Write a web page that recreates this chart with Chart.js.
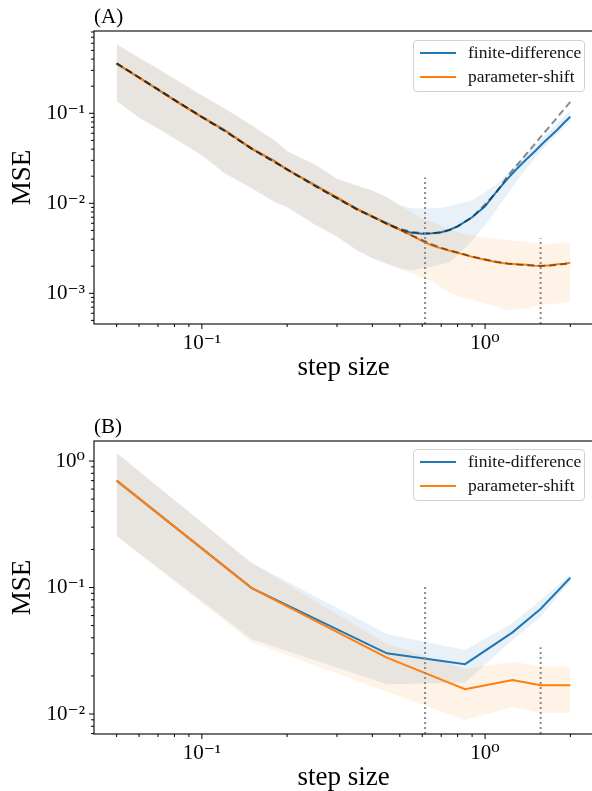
<!DOCTYPE html>
<html>
<head>
<meta charset="utf-8">
<script src="https://cdn.jsdelivr.net/npm/chart.js@4.4.1/dist/chart.umd.min.js"></script>
<style>
  html, body { margin: 0; padding: 0; background: #fff; overflow: hidden; }
  #page { position: relative; width: 592px; height: 791px; overflow: hidden; }
  canvas { position: absolute; left: 0; }
  .legend {
    position: absolute; width: 172px; height: 52px; box-sizing: border-box;
    background: rgba(255,255,255,0.8); border: 1px solid #d2d2d2; border-radius: 4px;
    font-family: 'Liberation Serif', 'DejaVu Serif', serif; font-size: 17.5px; color: #111;
  }
  .legend .swatch { position: absolute; left: 6px; width: 36px; height: 2px; }
  .legend .name { position: absolute; left: 54px; height: 20px; line-height: 20px; white-space: nowrap; }
</style>
</head>
<body>
<div id="page">
  <canvas id="chartA" width="600" height="384" style="top:0"></canvas>
  <canvas id="chartB" width="600" height="410" style="top:384px"></canvas>
  <div class="legend" id="legendA" style="left:413px; top:40px"></div>
  <div class="legend" id="legendB" style="left:413px; top:449px"></div>
</div>
<script>
// ---- data: panel A (dense sweep) ----
const stepsA = [0.05, 0.06, 0.07, 0.08, 0.1, 0.12, 0.15, 0.18, 0.2, 0.25, 0.3, 0.35, 0.4, 0.45, 0.5,
  0.55, 0.6, 0.65, 0.7, 0.75, 0.8, 0.9, 1.0, 1.1, 1.2, 1.3, 1.4, 1.5, 1.6, 1.7, 1.8, 1.9, 2.0];
const fdMeanA = [0.355, 0.250, 0.183, 0.140, 0.0905, 0.0655, 0.0402, 0.0296, 0.0236, 0.0160, 0.0115, 0.0088, 0.0071, 0.0060, 0.0051,
  0.0047, 0.0046, 0.00464, 0.00476, 0.00508, 0.00555, 0.00699, 0.00926, 0.0136, 0.0187, 0.0245, 0.0308, 0.0378, 0.0464, 0.0555, 0.0656, 0.0784, 0.0914];
const fdLowA = [0.137, 0.0891, 0.0673, 0.0528, 0.0341, 0.0215, 0.0147, 0.0105, 0.0090, 0.0058, 0.0043, 0.0030, 0.00245, 0.00215, 0.0019,
  0.0018, 0.0019, 0.00197, 0.0021, 0.00221, 0.00264, 0.00388, 0.0057, 0.0086, 0.0126, 0.0180, 0.0245, 0.0316, 0.0398, 0.0489, 0.0584, 0.0699, 0.0815];
const fdHighA = [0.584, 0.414, 0.312, 0.242, 0.1585, 0.1136, 0.0736, 0.0501, 0.0378, 0.0271, 0.0187, 0.0159, 0.0139, 0.0117, 0.0095,
  0.0088, 0.0088, 0.0088, 0.0089, 0.0093, 0.0098, 0.0108, 0.0133, 0.0163, 0.0215, 0.0278, 0.0359, 0.0441, 0.0541, 0.0647, 0.0774, 0.0914, 0.108];
const psMeanA = [0.360, 0.248, 0.185, 0.139, 0.0914, 0.0648, 0.0408, 0.0293, 0.0239, 0.0158, 0.0117, 0.0087, 0.0072, 0.0059, 0.0051,
  0.0044, 0.0038, 0.0034, 0.00316, 0.00297, 0.00282, 0.00254, 0.00236, 0.00221, 0.00213, 0.00210, 0.00207, 0.00202, 0.00201, 0.00205, 0.00210, 0.00213, 0.00218];
const psLowA = [0.137, 0.0891, 0.0680, 0.0520, 0.0341, 0.0220, 0.0147, 0.0103, 0.0092, 0.0058, 0.0042, 0.0031, 0.00245, 0.0021, 0.00185,
  0.00167, 0.0015, 0.00136, 0.00114, 0.00103, 0.00093, 0.00086, 0.00077, 0.00072, 0.00065, 0.00066, 0.00068, 0.00072, 0.00074, 0.00076, 0.00077, 0.00079, 0.00080];
const psHighA = [0.584, 0.414, 0.312, 0.242, 0.1585, 0.1136, 0.0736, 0.0501, 0.0378, 0.0271, 0.0187, 0.0159, 0.0139, 0.0117, 0.0095,
  0.0079, 0.0068, 0.0062, 0.0056, 0.0051, 0.0048, 0.0044, 0.0042, 0.0040, 0.0039, 0.0038, 0.0037, 0.00355, 0.0035, 0.00355, 0.0036, 0.0037, 0.0037];
// theory curves (dashed)
const theoryFdA = [0.360, 0.250, 0.184, 0.141, 0.0910, 0.0640, 0.0405, 0.0288, 0.0238, 0.0157, 0.0114, 0.0087, 0.0071, 0.0059, 0.0052,
  0.0048, 0.00465, 0.00462, 0.00474, 0.00505, 0.00553, 0.0070, 0.0097, 0.0134, 0.0200, 0.0268, 0.0355, 0.0458, 0.0585, 0.0726, 0.0903, 0.111, 0.134];
const theoryPsA = [0.360, 0.250, 0.184, 0.141, 0.0910, 0.0640, 0.0405, 0.0288, 0.0238, 0.0157, 0.0114, 0.0087, 0.0071, 0.0059, 0.0051,
  0.0044, 0.0039, 0.0035, 0.00320, 0.00300, 0.00284, 0.00256, 0.00238, 0.00224, 0.00215, 0.00209, 0.00205, 0.00203, 0.00203, 0.00204, 0.00207, 0.00211, 0.00216];

// ---- data: panel B (coarse sweep) ----
const stepsB = [0.05, 0.15, 0.45, 0.85, 1.25, 1.57, 2.0];
const fdMeanB = [0.70, 0.099, 0.0302, 0.0248, 0.0442, 0.0676, 0.1196];
const fdLowB = [0.255, 0.039, 0.0172, 0.0177, 0.0385, 0.0588, 0.112];
const fdHighB = [1.157, 0.156, 0.0429, 0.032, 0.0521, 0.0796, 0.127];
const psMeanB = [0.70, 0.099, 0.0279, 0.0157, 0.0186, 0.0169, 0.0169];
const psLowB = [0.255, 0.037, 0.015, 0.00897, 0.0113, 0.0102, 0.0102];
const psHighB = [1.157, 0.156, 0.036, 0.0227, 0.0259, 0.0239, 0.0237];

// optimal step sizes (dotted markers) and how high they reach
const optSteps = [0.614, 1.571];
const optTopA = [0.0193, 0.0041];
const optTopB = [0.101, 0.0337];

// ---- axes ----
const seriesNames = ['finite-difference', 'parameter-shift'];
const seriesColors = ['#1f77b4', '#ff7f0e'];
const xTickValues = [0.1, 1];
const xTickLabels = ['10⁻¹', '10⁰'];
const yTickValuesA = [0.001, 0.01, 0.1];
const yTickLabelsA = ['10⁻³', '10⁻²', '10⁻¹'];
const yTickValuesB = [0.01, 0.1, 1];
const yTickLabelsB = ['10⁻²', '10⁻¹', '10⁰'];
const X_MIN = 0.0416, X_MAX = 2.405;
const Y_MIN_A = 0.000456, Y_MAX_A = 0.821;
const Y_MIN_B = 0.00695, Y_MAX_B = 1.44;

const SERIF = "'Liberation Serif', 'DejaVu Serif', serif";

const pts = (xs, ys) => xs.map((x, i) => ({ x: x, y: ys[i] }));

// every 1..9 x 10^n inside the range
function logTicks(min, max) {
  const out = [];
  for (let e = Math.floor(Math.log10(min)); e <= Math.ceil(Math.log10(max)); e++) {
    for (let m = 1; m < 10; m++) {
      const v = m * Math.pow(10, e);
      if (v >= min * 0.999 && v <= max * 1.001) out.push({ value: v, major: m === 1 });
    }
  }
  return out;
}

function labelFor(v, values, labels) {
  const i = values.findIndex(t => Math.abs(Math.log10(t) - Math.log10(v)) < 1e-6);
  return i >= 0 ? labels[i] : '';
}

// spines, outward tick marks and the (A)/(B) tag
const framePlugin = {
  id: 'frame',
  afterDatasetsDraw(chart, args, opts) {
    const { ctx, chartArea: a } = chart;
    ctx.save();
    ctx.strokeStyle = '#000';
    ctx.lineWidth = 1.1;
    ctx.strokeRect(a.left, a.top, a.right - a.left, a.bottom - a.top);
    ctx.lineWidth = 1;
    const xs = chart.scales.x, ys = chart.scales.y;
    xs.ticks.forEach(t => {
      const px = xs.getPixelForValue(t.value);
      const len = t.major ? 5 : 3;
      ctx.beginPath(); ctx.moveTo(px, a.bottom); ctx.lineTo(px, a.bottom + len); ctx.stroke();
    });
    ys.ticks.forEach(t => {
      const py = ys.getPixelForValue(t.value);
      const len = t.major ? 5 : 3;
      ctx.beginPath(); ctx.moveTo(a.left - len, py); ctx.lineTo(a.left, py); ctx.stroke();
    });
    ctx.fillStyle = '#000';
    ctx.font = '21px ' + SERIF;
    ctx.textBaseline = 'alphabetic';
    ctx.fillText(opts.label, a.left, a.top - 8.5);
    ctx.restore();
  }
};

function bandSets(xs, low, high, rgb) {
  return [
    { data: pts(xs, low), borderColor: 'transparent', borderWidth: 0, backgroundColor: 'transparent', fill: false, order: 10 },
    { data: pts(xs, high), borderColor: 'transparent', borderWidth: 0, backgroundColor: 'rgba(' + rgb + ',0.1)', fill: '-1', order: 10 }
  ];
}

function lineSet(xs, ys, color, order, extra) {
  return Object.assign({ data: pts(xs, ys), borderColor: color, borderWidth: 2, fill: false, order: order }, extra || {});
}

function vlineSets(tops, yMin) {
  return optSteps.map((s, i) => ({
    data: [{ x: s, y: yMin }, { x: s, y: tops[i] }],
    borderColor: '#8a8a8a', borderWidth: 2, borderDash: [2, 3], fill: false, order: 1
  }));
}

function makeChart(id, label, datasets, yMin, yMax, yVals, yLabs, padTop) {
  return new Chart(document.getElementById(id), {
    type: 'line',
    data: { datasets: datasets },
    options: {
      responsive: false,
      animation: false,
      devicePixelRatio: 1,
      layout: { padding: { top: padTop, right: 7, left: 0, bottom: 0 } },
      elements: { point: { radius: 0 }, line: { tension: 0 } },
      plugins: { legend: { display: false }, tooltip: { enabled: false }, frame: { label: label } },
      scales: {
        x: {
          type: 'logarithmic', min: X_MIN, max: X_MAX,
          afterBuildTicks: s => { s.ticks = logTicks(s.min, s.max); },
          afterFit: s => { s.height = 60; },
          grid: { display: false, drawTicks: false },
          border: { display: false },
          ticks: { autoSkip: false, maxRotation: 0, padding: 7, color: '#000', font: { family: SERIF, size: 21 },
            callback: v => labelFor(v, xTickValues, xTickLabels) },
          title: { display: true, text: 'step size', color: '#000', font: { family: SERIF, size: 27 }, padding: 0 }
        },
        y: {
          type: 'logarithmic', min: yMin, max: yMax,
          afterBuildTicks: s => { s.ticks = logTicks(s.min, s.max); },
          afterFit: s => { s.width = 94; },
          grid: { display: false, drawTicks: false },
          border: { display: false },
          ticks: { autoSkip: false, padding: 9, color: '#000', font: { family: SERIF, size: 21 },
            callback: v => labelFor(v, yVals, yLabs) },
          title: { display: true, text: 'MSE', color: '#000', font: { family: SERIF, size: 27 }, padding: { top: 7 } }
        }
      }
    },
    plugins: [framePlugin]
  });
}

function drawLegend(id) {
  const box = document.getElementById(id);
  seriesNames.forEach((name, i) => {
    const y = 12 + i * 24;
    const sw = document.createElement('div');
    sw.className = 'swatch';
    sw.style.top = (y - 1) + 'px';
    sw.style.background = seriesColors[i];
    const tx = document.createElement('div');
    tx.className = 'name';
    tx.style.top = (y - 11) + 'px';
    tx.innerText = name;
    box.appendChild(sw);
    box.appendChild(tx);
  });
}

// ---- panel A ----
makeChart('chartA', '(A)', [
  ...bandSets(stepsA, fdLowA, fdHighA, '31,119,180'),
  ...bandSets(stepsA, psLowA, psHighA, '255,127,14'),
  lineSet(stepsA, fdMeanA, seriesColors[0], 4),
  lineSet(stepsA, psMeanA, seriesColors[1], 3),
  lineSet(stepsA, theoryFdA, 'rgba(0,0,0,0.45)', 2, { borderDash: [7, 4] }),
  lineSet(stepsA, theoryPsA, 'rgba(0,0,0,0.45)', 2, { borderDash: [7, 4] }),
  ...vlineSets(optTopA, Y_MIN_A)
], Y_MIN_A, Y_MAX_A, yTickValuesA, yTickLabelsA, 31);

// ---- panel B ----
makeChart('chartB', '(B)', [
  ...bandSets(stepsB, fdLowB, fdHighB, '31,119,180'),
  ...bandSets(stepsB, psLowB, psHighB, '255,127,14'),
  lineSet(stepsB, fdMeanB, seriesColors[0], 4),
  lineSet(stepsB, psMeanB, seriesColors[1], 3),
  ...vlineSets(optTopB, Y_MIN_B)
], Y_MIN_B, Y_MAX_B, yTickValuesB, yTickLabelsB, 57);

drawLegend('legendA');
drawLegend('legendB');
</script>
</body>
</html>
